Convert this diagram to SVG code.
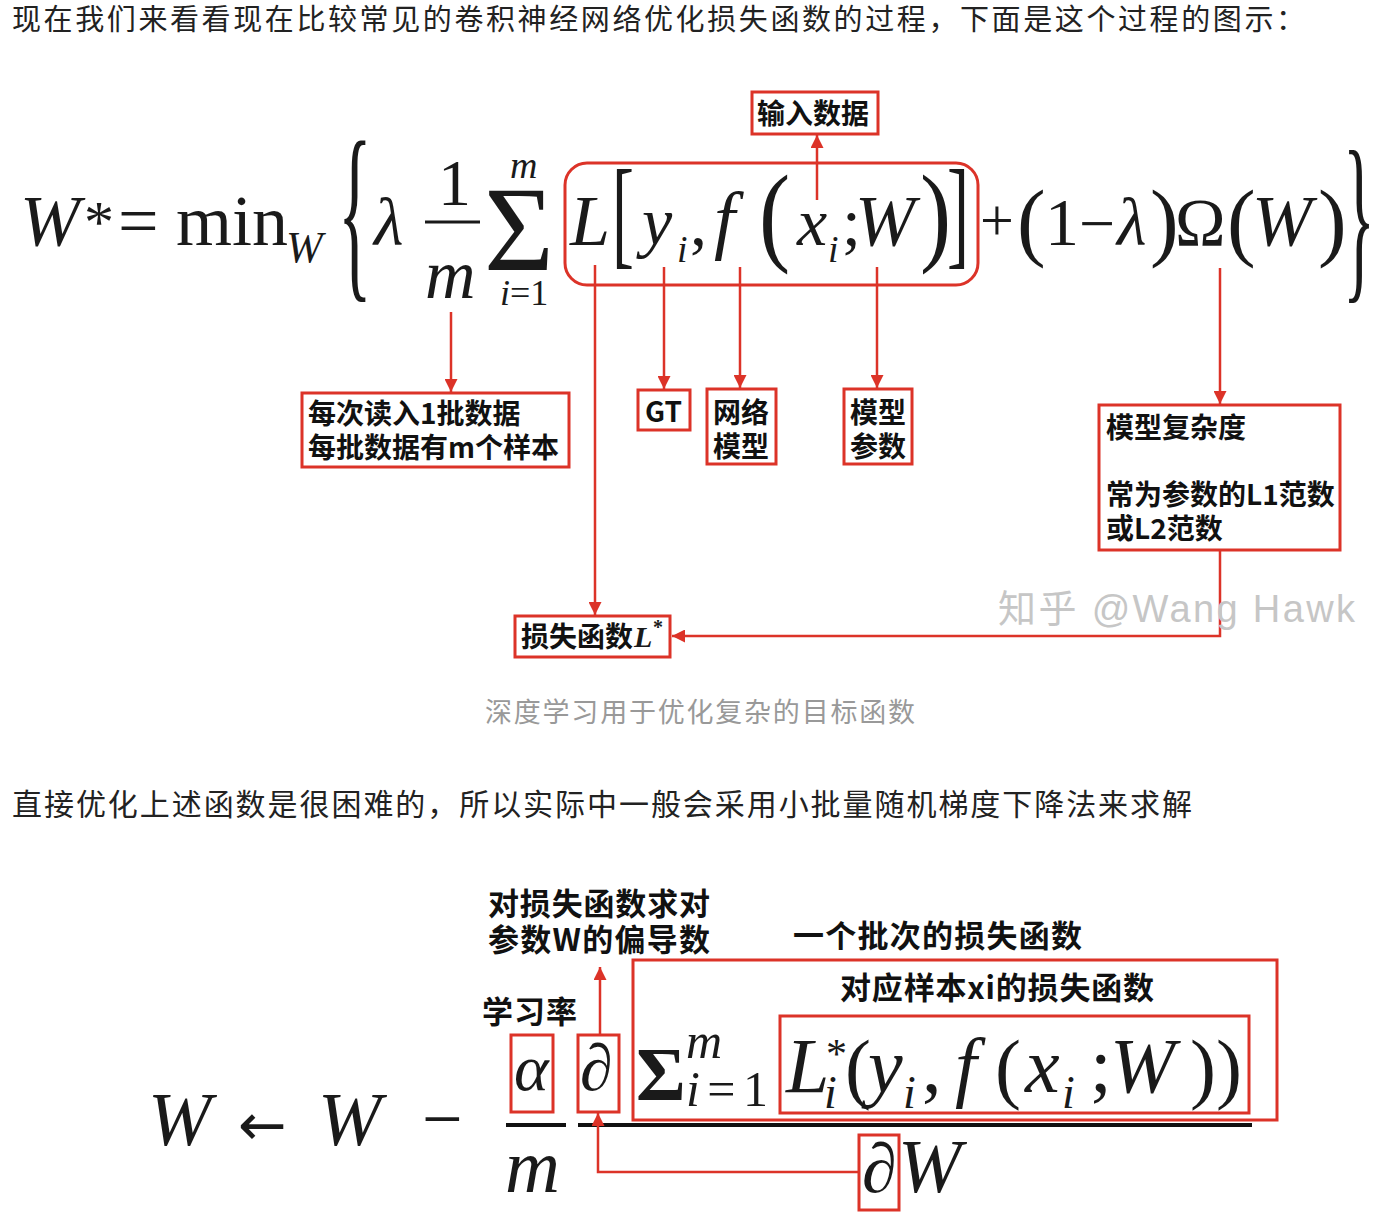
<svg xmlns="http://www.w3.org/2000/svg" width="1378" height="1222" viewBox="0 0 1378 1222">
<defs>
<style>
.txt{font-family:"Noto Sans CJK SC","Noto Sans",sans-serif;fill:#222}
.lbl{font-family:"Noto Sans CJK SC","Noto Sans",sans-serif;font-weight:bold;font-size:28px;fill:#111}
.blbl{font-family:"Noto Sans CJK SC","Noto Sans",sans-serif;font-weight:bold;font-size:31px;fill:#111}
.m{font-family:"Liberation Serif","DejaVu Serif",serif;fill:#1a1a1a}
.i{font-style:italic}
.box{fill:none;stroke:#dc3328;stroke-width:3}
.con{fill:none;stroke:#dc3328;stroke-width:2.5}
.bar{stroke:#111;stroke-width:4}
</style>
<marker id="ah" viewBox="0 0 10 10" refX="10" refY="5" markerWidth="13" markerHeight="13" markerUnits="userSpaceOnUse" orient="auto">
<path d="M0,0 L10,5 L0,10 z" fill="#dc3328"/>
</marker>
</defs>
<rect width="1378" height="1222" fill="#ffffff"/>

<text class="txt" x="12" y="30" font-size="29" textLength="1293" lengthAdjust="spacing">现在我们来看看现在比较常见的卷积神经网络优化损失函数的过程，下面是这个过程的图示：</text>

<g id="formula-top">
<text class="m i" x="20" y="245" font-size="72">W</text>
<text class="m" x="84" y="242" font-size="60">*</text>
<text class="m" x="118" y="245" font-size="72">=</text>
<text class="m" x="176" y="245" font-size="72">min</text>
<text class="m i" x="286" y="262" font-size="44">W</text>
<text class="m" transform="translate(338,276) scale(0.36,1)" font-size="195">{</text>
<text class="m i" x="374" y="245" font-size="68">λ</text>
<text class="m" x="438" y="205" font-size="66">1</text>
<line x1="425" y1="222" x2="480" y2="222" stroke="#1a1a1a" stroke-width="3"/>
<text class="m i" x="425" y="298" font-size="70">m</text>
<text class="m" x="484" y="270" font-size="120">Σ</text>
<text class="m i" x="510" y="178" font-size="38">m</text>
<text class="m" x="500" y="305" font-size="36"><tspan font-style="italic">i</tspan>=1</text>
<text class="m i" x="570" y="245" font-size="72">L</text>
<text class="m" transform="translate(612,253) scale(0.55,1)" font-size="120">[</text>
<text class="m i" x="642" y="245" font-size="68">y</text>
<text class="m i" x="677" y="262" font-size="38">i</text>
<text class="m" x="690" y="245" font-size="68">,</text>
<text class="m i" x="714" y="245" font-size="76">f</text>
<text class="m" transform="translate(759,251) scale(0.85,1)" font-size="110">(</text>
<text class="m i" x="797" y="245" font-size="68">x</text>
<text class="m i" x="828" y="262" font-size="38">i</text>
<text class="m" x="842" y="245" font-size="68">;</text>
<text class="m i" x="855" y="245" font-size="72">W</text>
<text class="m" transform="translate(920,251) scale(0.85,1)" font-size="110">)</text>
<text class="m" transform="translate(947,253) scale(0.55,1)" font-size="120">]</text>
<text class="m" x="980" y="240" font-size="60">+</text>
<text class="m" x="1017" y="250" font-size="86">(</text>
<text class="m" x="1045" y="245" font-size="68">1</text>
<text class="m" x="1079" y="245" font-size="64">−</text>
<text class="m i" x="1117" y="245" font-size="68">λ</text>
<text class="m" x="1150" y="250" font-size="86">)</text>
<text class="m" x="1175" y="245" font-size="68">Ω</text>
<text class="m" x="1227" y="250" font-size="86">(</text>
<text class="m i" x="1252" y="245" font-size="72">W</text>
<text class="m" x="1318" y="250" font-size="86">)</text>
<text class="m" transform="translate(1343,278) scale(0.36,1)" font-size="185">}</text>
</g>

<g id="loss-term-box"><rect class="box" x="565" y="163" width="413" height="122" rx="22"/></g>

<g id="node-input"><rect class="box" x="752" y="92" width="126" height="42" fill="#fff"/><text class="lbl" x="757" y="124">输入数据</text></g>
<g id="node-batch"><rect class="box" x="302" y="393" width="267" height="74"/><text class="lbl" x="308" y="424">每次读入1批数据</text><text class="lbl" x="308" y="458">每批数据有m个样本</text></g>
<g id="node-gt"><rect class="box" x="638" y="390" width="52" height="40"/><text class="lbl" x="645" y="422">GT</text></g>
<g id="node-net"><rect class="box" x="707" y="389" width="69" height="75"/><text class="lbl" x="713" y="423">网络</text><text class="lbl" x="713" y="457">模型</text></g>
<g id="node-param"><rect class="box" x="844" y="389" width="68" height="75"/><text class="lbl" x="850" y="423">模型</text><text class="lbl" x="850" y="457">参数</text></g>
<g id="node-complexity"><rect class="box" x="1099" y="405" width="241" height="145"/><text class="lbl" x="1106" y="438">模型复杂度</text><text class="lbl" x="1106" y="505">常为参数的L1范数</text><text class="lbl" x="1106" y="539">或L2范数</text></g>
<g id="node-loss"><rect class="box" x="515" y="616" width="155" height="41"/><text class="lbl" x="521" y="647">损失函数</text><text class="m i" x="634" y="647" font-size="30" font-weight="bold">L</text><text class="m" x="653" y="634" font-size="20" font-weight="bold">*</text></g>

<g id="connectors-top">
<line class="con" x1="817" y1="200" x2="817" y2="135" marker-end="url(#ah)"/>
<line class="con" x1="451" y1="312" x2="451" y2="392" marker-end="url(#ah)"/>
<line class="con" x1="595" y1="265" x2="595" y2="615" marker-end="url(#ah)"/>
<line class="con" x1="664" y1="267" x2="664" y2="389" marker-end="url(#ah)"/>
<line class="con" x1="740" y1="267" x2="740" y2="388" marker-end="url(#ah)"/>
<line class="con" x1="877" y1="267" x2="877" y2="388" marker-end="url(#ah)"/>
<line class="con" x1="1220" y1="268" x2="1220" y2="404" marker-end="url(#ah)"/>
<polyline class="con" points="1220,550 1220,636 672,636" marker-end="url(#ah)"/>
</g>

<text x="998" y="622" font-family="Liberation Sans,Noto Sans CJK SC,sans-serif" font-size="38" fill="#c6c6c6" textLength="357" lengthAdjust="spacing">知乎 @Wang Hawk</text>

<text class="txt" x="485" y="722" font-size="27" textLength="430" lengthAdjust="spacing" style="fill:#999">深度学习用于优化复杂的目标函数</text>

<text class="txt" x="12" y="815" font-size="30" textLength="1180" lengthAdjust="spacing">直接优化上述函数是很困难的，所以实际中一般会采用小批量随机梯度下降法来求解</text>

<g id="formula-bottom">
<text class="m i" x="148" y="1145" font-size="76">W</text>
<text x="238" y="1145" font-family="DejaVu Sans,sans-serif" font-size="58" fill="#1a1a1a">←</text>
<text class="m i" x="318" y="1145" font-size="76">W</text>
<text class="m" x="422" y="1143" font-size="72">−</text>
<line class="bar" x1="506" y1="1125" x2="566" y2="1125"/>
<line class="bar" x1="578" y1="1125" x2="1252" y2="1125"/>
<text class="m i" x="514" y="1090" font-size="66">α</text>
<text class="m i" x="580" y="1090" font-size="66">∂</text>
<text class="m" x="636" y="1100" font-size="76" font-weight="bold">Σ</text>
<text class="m i" x="686" y="1058" font-size="50">m</text>
<text class="m" x="686" y="1106" font-size="50" textLength="82" lengthAdjust="spacing"><tspan font-style="italic">i</tspan>=1</text>
<text class="m i" x="786" y="1092" font-size="78">L</text>
<text class="m" x="826" y="1068" font-size="42">*</text>
<text class="m i" x="824" y="1108" font-size="46">i</text>
<text class="m" x="845" y="1094" font-size="78">(</text>
<text class="m i" x="868" y="1092" font-size="78">y</text>
<text class="m i" x="903" y="1108" font-size="46">i</text>
<text class="m" x="922" y="1092" font-size="78">,</text>
<text class="m i" x="955" y="1092" font-size="78">f</text>
<text class="m" x="995" y="1094" font-size="78">(</text>
<text class="m i" x="1025" y="1092" font-size="78">x</text>
<text class="m i" x="1062" y="1108" font-size="46">i</text>
<text class="m" x="1090" y="1092" font-size="78">;</text>
<text class="m i" x="1110" y="1092" font-size="78">W</text>
<text class="m" x="1190" y="1094" font-size="78">))</text>
<text class="m i" x="505" y="1192" font-size="76">m</text>
<text class="m i" x="862" y="1192" font-size="70">∂</text>
<text class="m i" x="898" y="1192" font-size="76">W</text>
</g>

<g id="node-lr"><text class="blbl" x="482" y="1023" textLength="95" lengthAdjust="spacing">学习率</text><rect class="box" x="511" y="1035" width="42" height="77"/></g>
<g id="node-partial"><text class="blbl" x="488" y="915" textLength="222" lengthAdjust="spacing">对损失函数求对</text><text class="blbl" x="488" y="951" textLength="222" lengthAdjust="spacing">参数W的偏导数</text><rect class="box" x="578" y="1035" width="41" height="77"/></g>
<g id="node-partial-w"><rect class="box" x="859" y="1135" width="40" height="75"/></g>
<g id="node-batch-loss"><text class="blbl" x="793" y="947" textLength="289" lengthAdjust="spacing">一个批次的损失函数</text><rect class="box" x="633" y="960" width="644" height="160"/></g>
<g id="node-sample-loss"><text class="blbl" x="840" y="999" textLength="314" lengthAdjust="spacing">对应样本xi的损失函数</text><rect class="box" x="780" y="1016" width="469" height="97"/></g>

<g id="connectors-bottom">
<line class="con" x1="600" y1="1035" x2="600" y2="967" marker-end="url(#ah)"/>
<polyline class="con" points="859,1172 598,1172 598,1113" marker-end="url(#ah)"/>
</g>
</svg>
